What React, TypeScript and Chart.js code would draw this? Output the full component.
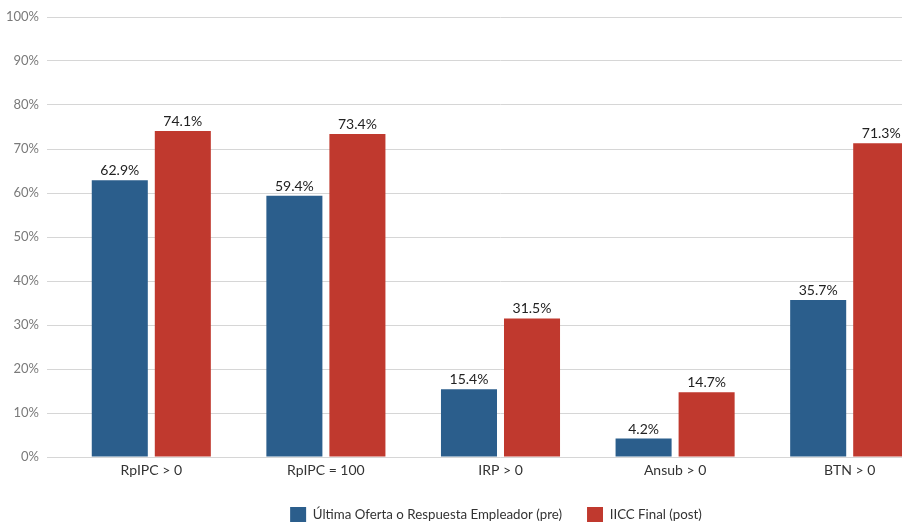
import React, { useEffect, useRef } from "react";
import { Chart, registerables } from "chart.js";

Chart.register(...registerables);

const categories = ["RpIPC > 0", "RpIPC = 100", "IRP > 0", "Ansub > 0", "BTN > 0"];
const preLabel = "Última Oferta o Respuesta Empleador (pre)";
const postLabel = "IICC Final (post)";
const preValues = [62.9, 59.4, 15.4, 4.2, 35.7];
const postValues = [74.1, 73.4, 31.5, 14.7, 71.3];
const yTicks = [0, 10, 20, 30, 40, 50, 60, 70, 80, 90, 100];

const BLUE = "#2b5e8c";
const RED = "#c0392e";
const GRID = "#d6d6d6";
const FONT = "Lato, 'Open Sans', sans-serif";

// Writes each bar's value just above its top.
const valueLabels = {
  id: "valueLabels",
  afterDatasetsDraw(chart: any) {
    const ctx = chart.ctx;
    ctx.save();
    ctx.font = `14px ${FONT}`;
    ctx.fillStyle = "#222222";
    ctx.textAlign = "center";
    ctx.textBaseline = "alphabetic";
    chart.data.datasets.forEach((ds: any, di: number) => {
      const meta = chart.getDatasetMeta(di);
      meta.data.forEach((bar: any, i: number) => {
        const v = ds.data[i] as number;
        ctx.fillText(`${v.toFixed(1)}%`, bar.x, bar.y - 5);
      });
    });
    ctx.restore();
  },
};

export default function App() {
  const ref = useRef<HTMLCanvasElement | null>(null);

  useEffect(() => {
    if (!ref.current) return;
    const chart = new Chart(ref.current, {
      type: "bar",
      data: {
        labels: categories,
        datasets: [
          {
            label: preLabel,
            data: preValues,
            backgroundColor: BLUE,
            categoryPercentage: 0.722,
            barPercentage: 0.889,
          },
          {
            label: postLabel,
            data: postValues,
            backgroundColor: RED,
            categoryPercentage: 0.722,
            barPercentage: 0.889,
          },
        ],
      },
      options: {
        responsive: false,
        animation: false,
        devicePixelRatio: 1,
        layout: { padding: { top: 17, bottom: 2, left: 0, right: 0 } },
        plugins: {
          legend: {
            position: "bottom",
            labels: {
              boxWidth: 16,
              boxHeight: 16,
              padding: 25,
              color: "#333333",
              font: { family: FONT, size: 13.3 },
            },
          },
          tooltip: { enabled: false },
        },
        scales: {
          x: {
            grid: { display: false, drawTicks: false },
            border: { display: false },
            ticks: {
              color: "#333333",
              font: { family: FONT, size: 14 },
              padding: 5,
            },
            afterFit(scale: any) {
              scale.height = 25;
            },
          },
          y: {
            min: 0,
            max: 100,
            afterBuildTicks(scale: any) {
              scale.ticks = yTicks.map((v) => ({ value: v }));
            },
            grid: { color: GRID, lineWidth: 1, tickLength: 17, drawTicks: true },
            border: { display: false },
            ticks: {
              color: "#7a7a7a",
              font: { family: FONT, size: 13 },
              padding: 8,
              callback: (v: any) => `${v}%`,
            },
            afterFit(scale: any) {
              scale.width = 64;
            },
          },
          spacer: {
            type: "linear",
            position: "right",
            display: true,
            grid: { display: false },
            border: { display: false },
            ticks: { display: false },
            afterFit(scale: any) {
              scale.width = 55;
            },
          },
        },
      } as any,
      plugins: [valueLabels],
    });
    return () => chart.destroy();
  }, []);

  return (
    <div
      style={{
        position: "fixed",
        left: 0,
        top: 0,
        width: 902,
        height: 522,
        overflow: "hidden",
        background: "#ffffff",
      }}
    >
      <canvas ref={ref} width={992} height={535} style={{ display: "block", width: 992, height: 535 }} />
    </div>
  );
}
